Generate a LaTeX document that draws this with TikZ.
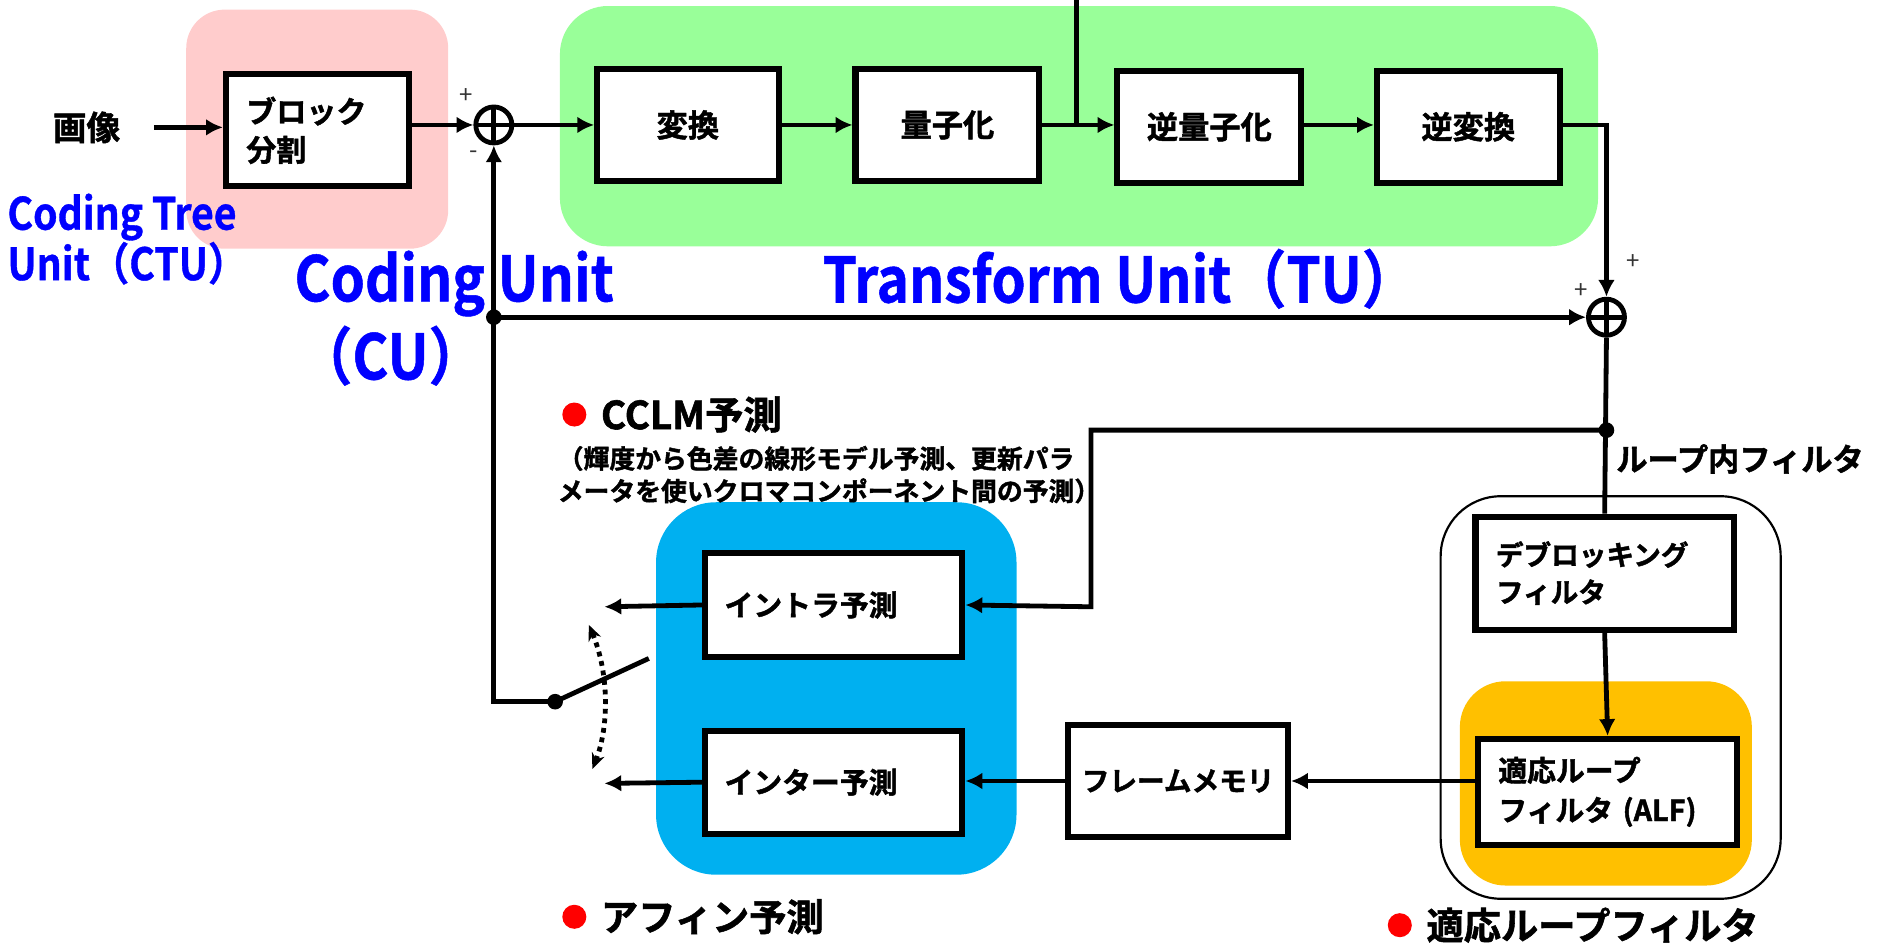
\documentclass[tikz,border=0pt]{standalone}
\usepackage{fontspec}
\setmainfont{Noto Sans CJK JP}[BoldFont={Noto Sans CJK JP Bold}, BoldFeatures={FakeBold=1.5}]
\newfontfamily\condfont{Noto Sans CJK JP Bold}[FakeStretch=0.88, FakeBold=0.8]
\usetikzlibrary{arrows.meta}
\definecolor{pinkbg}{HTML}{FFCCCC}
\definecolor{greenbg}{HTML}{99FF99}
\definecolor{bluebg}{HTML}{00B0F0}
\definecolor{orangebg}{HTML}{FFC000}
\definecolor{labelblue}{HTML}{0000FF}
\definecolor{dotred}{HTML}{FF0000}
\newcommand{\fsz}[2]{\fontsize{#1pt}{#2pt}\selectfont}
\begin{document}
\begin{tikzpicture}[x=1pt,y=-1pt,
  blk/.style={draw, line width=5pt, fill=white, inner sep=0pt, font=\bfseries\fsz{26}{32}},
  conn/.style={line width=4pt, -{Latex[length=14pt,width=14pt]}},
  wire/.style={line width=4pt},
  jdot/.style={circle, fill, inner sep=0pt, minimum size=13pt},
  sumnode/.style={circle, draw, line width=4pt, minimum size=30pt, inner sep=0pt,
    path picture={\draw[line width=4pt] (path picture bounding box.north) -- (path picture bounding box.south)
      (path picture bounding box.west) -- (path picture bounding box.east);}},
  sign/.style={font=\fsz{20}{20}, text=black!80, inner sep=0pt},
  bluelbl/.style={text=labelblue, inner sep=0pt},
  jptext/.style={font=\bfseries, inner sep=0pt, anchor=west},
  reddot/.style={circle, fill=dotred, inner sep=0pt, minimum size=20pt}
]
\useasboundingbox (0,0) rectangle (1568,792);

% background regions
\fill[pinkbg, rounded corners=32pt] (155,8) rectangle (373,207);
\fill[greenbg, rounded corners=40pt] (466,5) rectangle (1330,205);
\fill[bluebg, rounded corners=50pt] (546,418) rectangle (846,728);
\draw[line width=1.8pt, fill=white, rounded corners=50pt] (1199,413) rectangle (1482,748);
\fill[orangebg, rounded corners=38pt] (1215,567) rectangle (1458,737);

% input label
\node[font=\bfseries\fsz{28}{28}, inner sep=0pt] (img) at (72,106) {画像};

% boxes
\node[blk, minimum width=152pt, minimum height=93pt, text width=118pt, align=left, font=\bfseries\fsz{25}{32}] (split) at (264,108.5) {ブロック\\分割};
\node[blk, minimum width=151pt, minimum height=93pt] (tr) at (572.5,104) {変換};
\node[blk, minimum width=153pt, minimum height=93pt] (q) at (788.5,104) {量子化};
\node[blk, minimum width=153pt, minimum height=93pt] (iq) at (1006.5,105.5) {逆量子化};
\node[blk, minimum width=152pt, minimum height=93pt] (it) at (1222,105.5) {逆変換};

\node[sumnode] (sum1) at (411,104) {};
\node[sumnode] (sum2) at (1337,264) {};

\node[blk, minimum width=214pt, minimum height=87pt, text width=182pt, align=left, font=\bfseries\fsz{24}{30}] (intra) at (694,503.5) {イントラ予測};
\node[blk, minimum width=214pt, minimum height=86pt, text width=182pt, align=left, font=\bfseries\fsz{24}{30}] (inter) at (694,651) {インター予測};
\node[blk, minimum width=183pt, minimum height=93pt, font=\bfseries\fsz{23}{30}] (fm) at (980.5,650) {フレームメモリ};
\node[blk, minimum width=215pt, minimum height=94pt, text width=181pt, align=left, font=\bfseries\fsz{23}{31}] (dbk) at (1335.5,477) {デブロッキング\\フィルタ};
\node[blk, minimum width=216pt, minimum height=88pt, text width=182pt, align=left, font=\bfseries\fsz{24}{33}] (alf) at (1338,659) {適応ループ\\フィルタ (ALF)};

% coordinates
\coordinate (imgs) at (128,106);
\coordinate (topin) at (896,0);
\coordinate (qj) at (896,104);
\coordinate (cuj) at (411,264);
\node[jdot] (cujd) at (cuj) {};
\coordinate (lfj) at (1337,358);
\node[jdot] (lfjd) at (lfj) {};
\coordinate (swc) at (411,584);
\node[jdot] (swp) at (462,584) {};
\coordinate (swend) at (540,548);
\coordinate (intraout) at (503,505);
\coordinate (interout) at (503,652);
\coordinate (dtop) at (490,520);
\coordinate (dbot) at (493,640);
\coordinate (iqe) at (1083,104);
\coordinate (ite) at (1298,104);

% connectors
\draw[conn] (imgs) -- (imgs -| split.west);
\draw[conn] (split.east |- sum1.west) -- (sum1.west);
\draw[conn] (sum1.east) -- (tr.west);
\draw[conn] (tr.east) -- (q.west);
\draw[conn] (q.east) -- (q.east -| iq.west);
\draw[wire] (topin) -- (qj);
\draw[conn] (iqe) -- (iqe -| it.west);
\draw[conn] (ite) -| (sum2.north);
\draw[conn] (cuj) -- (sum2.west);
\draw[conn] (swp.center) -- (swc) -- (sum1.south);
\draw[wire] (swp.center) -- (swend);
\draw[wire] (sum2.south) -- (dbk.north);
\draw[conn] (lfj) -- (908,358) -- (908,505) -- (intra.east);
\draw[conn] (dbk.south) -- (alf.north);
\draw[conn] (alf.west |- fm.east) -- (fm.east);
\draw[conn] (fm.west) -- (fm.west -| inter.east);
\draw[conn] (intra.west) -- (intraout);
\draw[conn] (inter.west) -- (interout);
\draw[line width=4pt, dash pattern=on 4pt off 4pt, {Stealth[length=13pt,width=11pt]}-{Stealth[length=13pt,width=11pt]}]
  (dtop) .. controls (507,560) and (507,605) .. (dbot);

% signs
\node[sign] (p1) at (388,80) {+};
\node[sign] (m1) at (394,129) {-};
\node[sign] (p2) at (1359,218) {+};
\node[sign] (p3) at (1316,242) {+};

% blue labels
\node[bluelbl, anchor=west, align=left, font=\condfont\fsz{37}{42}] (ctu) at (6,199) {Coding Tree\\Unit（CTU）};
\node[bluelbl, font=\condfont\fsz{52}{52}] (cu1) at (378,236) {Coding Unit};
\node[bluelbl, font=\condfont\fsz{52}{52}] (cu2) at (325,296) {（CU）};
\node[bluelbl, font=\condfont\fsz{52}{52}] (tu) at (932,232) {Transform Unit（TU）};

% loop filter label
\node[jptext, font=\bfseries\fsz{26}{26}] (lft) at (1345,382) {ループ内フィルタ};

% bullet notes
\node[reddot] (d1) at (478,345) {};
\node[jptext, font=\bfseries\fsz{32}{32}] (cclm) at (500,345) {CCLM予測};
\node[jptext, align=left, font=\bfseries\fsz{21.5}{27}] (cclmsub) at (464,395) {（輝度から色差の線形モデル予測、更新パラ\\メータを使いクロマコンポーネント間の予測）};
\node[reddot] (d2) at (478,763) {};
\node[jptext, font=\bfseries\fsz{31}{31}] (aff) at (500,763) {アフィン予測};
\node[reddot] (d3) at (1165,770) {};
\node[jptext, font=\bfseries\fsz{31}{31}] (alfl) at (1187,770) {適応ループフィルタ};
\end{tikzpicture}
\end{document}
